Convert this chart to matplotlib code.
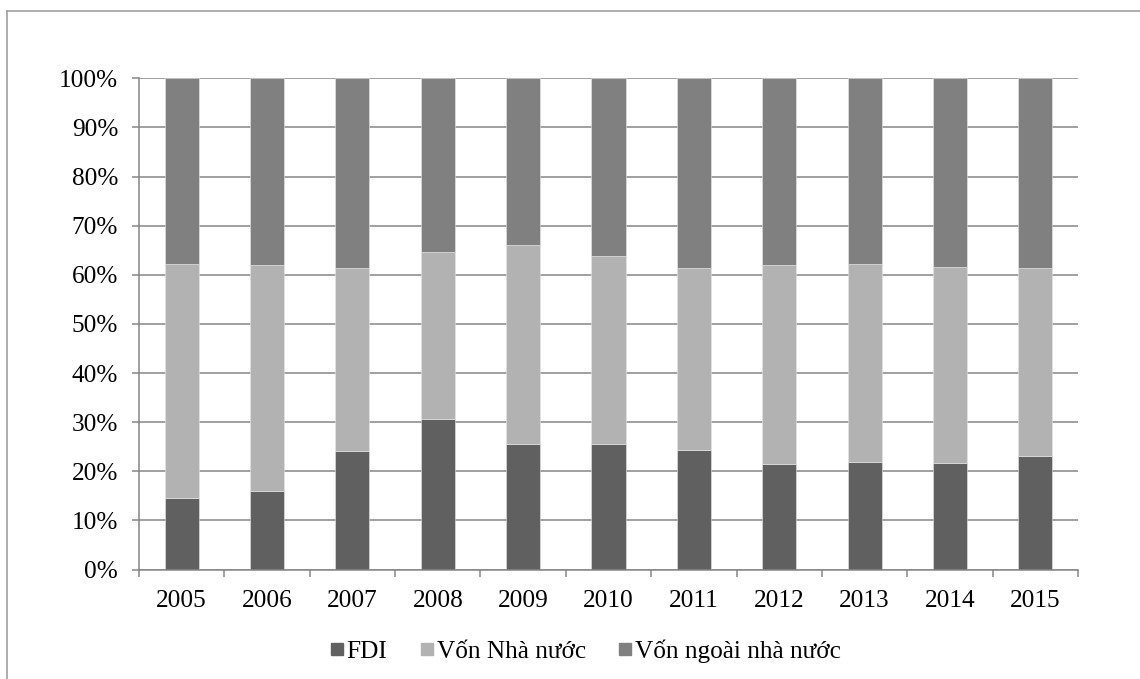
import matplotlib
matplotlib.use("Agg")
import matplotlib.pyplot as plt
from matplotlib.lines import Line2D
import numpy as np

years = ["2005", "2006", "2007", "2008", "2009", "2010", "2011", "2012", "2013", "2014", "2015"]
# shares in percent
fdi = [14.6, 16.0, 24.1, 30.6, 25.5, 25.6, 24.4, 21.4, 21.8, 21.6, 23.1]
top_nha_nuoc = [62.2, 61.9, 61.4, 64.7, 66.1, 63.8, 61.4, 61.9, 62.2, 61.6, 61.3]
nha_nuoc = [t - f for t, f in zip(top_nha_nuoc, fdi)]
ngoai_nha_nuoc = [100 - t for t in top_nha_nuoc]
series_names = ["FDI", "Vốn Nhà nước", "Vốn ngoài nhà nước"]
colors = ["#606060", "#b2b2b2", "#808080"]
yticks = [0, 10, 20, 30, 40, 50, 60, 70, 80, 90, 100]
ytick_labels = [f"{v}%" for v in yticks]

plt.rcParams['font.family'] = ['Liberation Serif', 'DejaVu Serif']

W, H = 1140, 679
fig = plt.figure(figsize=(W / 100, H / 100), dpi=100)
ax = fig.add_axes([139 / W, 1 - 569.5 / H, (1078 - 139) / W, (569.5 - 78.3) / H])

x = np.arange(len(years))
bw = 0.40
ax.bar(x, fdi, bw, color=colors[0], zorder=3, edgecolor='#e8e8e8', linewidth=0.4)
ax.bar(x, nha_nuoc, bw, bottom=fdi, color=colors[1], zorder=3, edgecolor='#e8e8e8', linewidth=0.4)
ax.bar(x, ngoai_nha_nuoc, bw, bottom=top_nha_nuoc, color=colors[2], zorder=3, edgecolor='#e8e8e8', linewidth=0.4)

ax.set_xlim(-0.5, len(years) - 0.5)
ax.set_ylim(0, 100)
ax.set_yticks(yticks)
ax.set_yticklabels(ytick_labels)
ax.set_xticks(x)
ax.set_xticklabels(years)
ax.set_xticks(np.arange(-0.5, len(years)), minor=True)

gcol = '#868686'
ax.yaxis.grid(True, color=gcol, linewidth=1.1, zorder=0)
ax.set_axisbelow(True)
for s in ['top', 'right']:
    ax.spines[s].set_visible(False)
for s in ['left', 'bottom']:
    ax.spines[s].set_color(gcol)
    ax.spines[s].set_linewidth(1.1)
    ax.spines[s].set_zorder(4)

fs = 18.2
ax.tick_params(axis='y', which='major', length=5, width=1.1, color=gcol, pad=10, labelsize=fs)
ax.tick_params(axis='x', which='major', length=0, pad=15, labelsize=fs)
ax.tick_params(axis='x', which='minor', length=5, width=1.1, color=gcol)

handles = [Line2D([], [], marker='s', linestyle='none', markersize=9, color=c) for c in colors]
fig.legend(handles, series_names, loc='center', bbox_to_anchor=(585 / W, 1 - 651 / H),
           ncol=3, frameon=False, fontsize=fs, handlelength=0.6, handletextpad=0.1,
           columnspacing=1.25, borderaxespad=0)

# outer chart border (partially visible)
fig.add_artist(Line2D([7 / W, 1.0], [1 - 11 / H, 1 - 11 / H], color='#a0a0a0', linewidth=1.2, transform=fig.transFigure))
fig.add_artist(Line2D([7 / W, 7 / W], [1 - 11 / H, 0], color='#a0a0a0', linewidth=1.2, transform=fig.transFigure))

fig.savefig("out.png", dpi=100)
